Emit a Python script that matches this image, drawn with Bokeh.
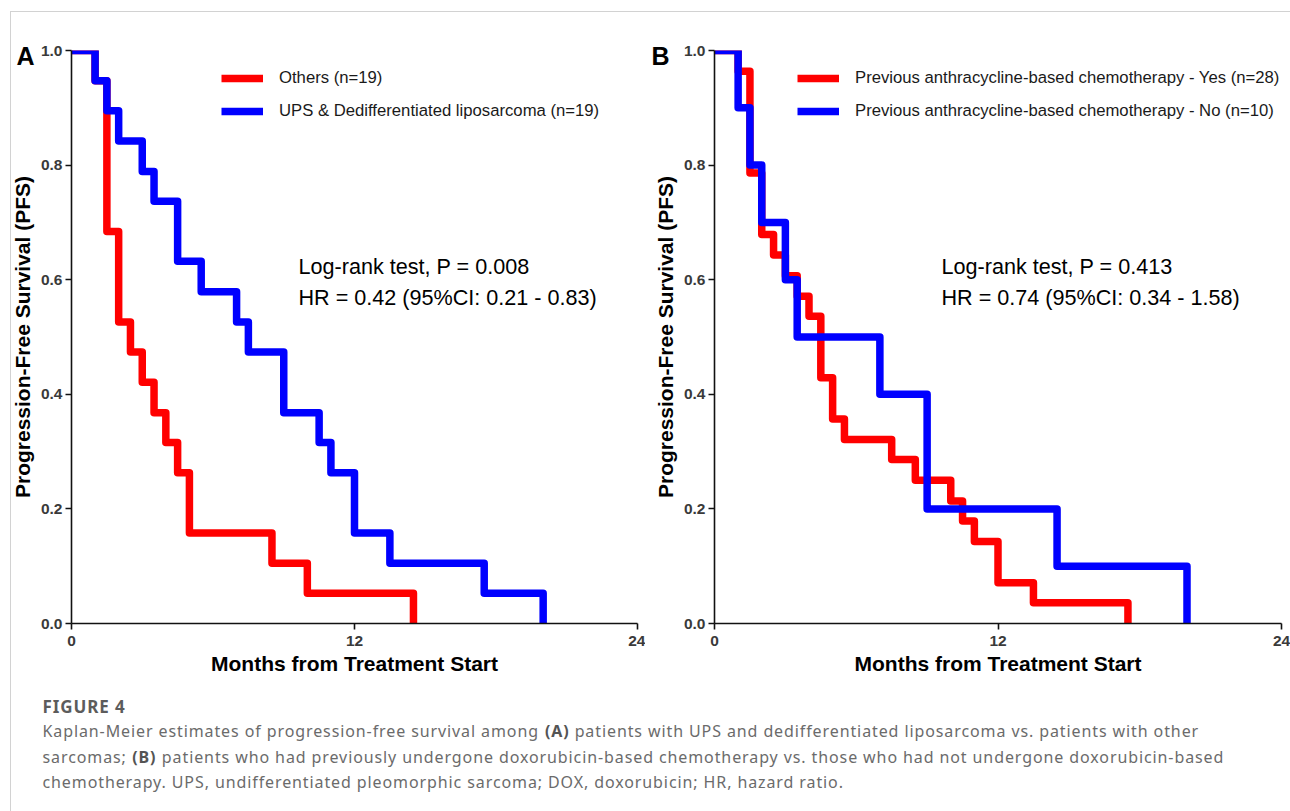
import glob
from bokeh.plotting import figure
from bokeh.models import (Range1d, FixedTicker, PrintfTickFormatter, Label,
                          Legend, LegendItem)
from bokeh.layouts import column, row
from bokeh.embed import file_html
from bokeh.resources import INLINE

# ---------------- data ----------------
x_ticks = [0, 12, 24]
y_ticks = [0.0, 0.2, 0.4, 0.6, 0.8, 1.0]

# Panel A
a_other_t = [0, 1.0, 1.5, 2.0, 2.5, 3.0, 3.5, 4.0, 4.5, 5.0, 8.5, 10.0, 14.5]
a_other_s = [1.0, 0.947, 0.684, 0.526, 0.474, 0.421, 0.368, 0.316, 0.263, 0.158, 0.105, 0.053, 0.0]
a_ups_t = [0, 1.0, 1.5, 2.0, 3.0, 3.5, 4.5, 5.5, 7.0, 7.5, 9.0, 10.5, 11.0, 12.0, 13.5, 17.5, 20.0]
a_ups_s = [1.0, 0.947, 0.895, 0.842, 0.789, 0.737, 0.632, 0.579, 0.526, 0.474, 0.368, 0.316, 0.263, 0.158, 0.105, 0.053, 0.0]
a_labels = ["Others (n=19)", "UPS & Dedifferentiated liposarcoma (n=19)"]
a_stats = ["Log-rank test, P = 0.008", "HR = 0.42 (95%CI: 0.21 - 0.83)"]

# Panel B
b_yes_t = [0, 1.0, 1.5, 2.0, 2.5, 3.0, 3.5, 4.0, 4.5, 5.0, 5.5, 7.5, 8.5, 10.0, 10.5, 11.0, 12.0, 13.5, 17.5]
b_yes_s = [1.0, 0.964, 0.786, 0.679, 0.643, 0.607, 0.571, 0.536, 0.429, 0.357, 0.321, 0.286, 0.25, 0.214, 0.179, 0.143, 0.071, 0.036, 0.0]
b_no_t = [0, 1.0, 1.5, 2.0, 3.0, 3.5, 7.0, 9.0, 14.5, 20.0]
b_no_s = [1.0, 0.9, 0.8, 0.7, 0.6, 0.5, 0.4, 0.2, 0.1, 0.0]
b_labels = ["Previous anthracycline-based chemotherapy - Yes (n=28)",
            "Previous anthracycline-based chemotherapy - No (n=10)"]
b_stats = ["Log-rank test, P = 0.413", "HR = 0.74 (95%CI: 0.34 - 1.58)"]

caption_title = "FIGURE 4"
caption_lines = [
    ["Kaplan-Meier estimates of progression-free survival among", ("(A)",), "patients with UPS and dedifferentiated liposarcoma vs. patients with other"],
    ["sarcomas;", ("(B)",), "patients who had previously undergone doxorubicin-based chemotherapy vs. those who had not undergone doxorubicin-based"],
    ["chemotherapy. UPS, undifferentiated pleomorphic sarcoma; DOX, doxorubicin; HR, hazard ratio."],
]

RED = "#ff0000"
BLUE = "#0000ff"
PF = "Liberation Sans"
CF = "Noto Sans"


def make_panel(width, bleft, bright, letter, letter_off, series, labels, stats, leg_x):
    p = figure(width=width, height=680, x_range=Range1d(0, 24), y_range=Range1d(0, 1),
               output_backend="svg", toolbar_location=None,
               min_border_left=bleft, min_border_right=bright,
               min_border_top=50, min_border_bottom=57)
    p.grid.visible = False
    p.outline_line_color = None
    p.background_fill_alpha = 0
    p.border_fill_alpha = 0

    p.title.text = letter
    p.title.align = "left"
    p.title.offset = letter_off
    p.title.standoff = -38
    p.title.text_font = PF
    p.title.text_font_size = "25px"
    p.title.text_font_style = "bold"
    p.title.text_color = "#000000"

    for ax in (p.xaxis, p.yaxis):
        ax.axis_line_color = "#111111"
        ax.axis_line_width = 1.6
        ax.major_tick_line_color = "#111111"
        ax.major_tick_line_width = 1.6
        ax.major_tick_out = 6
        ax.major_tick_in = 0
        ax.minor_tick_line_color = None
        ax.major_label_text_font = PF
        ax.major_label_text_font_style = "bold"
        ax.major_label_text_font_size = "15.5px"
        ax.major_label_text_color = "#3a3a3a"
        ax.axis_label_text_font = PF
        ax.axis_label_text_font_style = "bold"
        ax.axis_label_text_font_size = "21px"
        ax.axis_label_text_color = "#000000"
    p.xaxis.ticker = FixedTicker(ticks=x_ticks)
    p.yaxis.ticker = FixedTicker(ticks=y_ticks)
    p.yaxis.formatter = PrintfTickFormatter(format="%.1f")
    p.xaxis.axis_label = "Months from Treatment Start"
    p.yaxis.axis_label = "Progression-Free Survival (PFS)"
    p.xaxis.major_label_standoff = 6
    p.yaxis.major_label_standoff = 3
    p.xaxis.axis_label_standoff = 3
    p.yaxis.axis_label_standoff = 4

    rends = []
    for (t, s), col in zip(series, (RED, BLUE)):
        r = p.step(t, s, mode="after", line_color=col, line_width=7.5, line_join="round")
        rends.append(r)

    leg = Legend(items=[LegendItem(label=lab, renderers=[r]) for lab, r in zip(labels, rends)],
                 location=(leg_x, 502), orientation="vertical",
                 glyph_width=42, glyph_height=20, label_height=20, spacing=13,
                 padding=0, margin=0, label_standoff=16,
                 border_line_alpha=0, background_fill_alpha=0,
                 label_text_font=PF, label_text_font_size="16.7px",
                 label_text_color="#1a1a1a")
    p.add_layout(leg)

    for txt, yy in zip(stats, (357, 326.5)):
        p.add_layout(Label(x=227, y=yy, x_units="screen", y_units="screen", text=txt,
                           text_font=PF, text_font_size="21.6px", text_color="#000000",
                           text_baseline="alphabetic", text_align="left"))
    return p


pA = make_panel(645, 71, 8, "A", -55, [(a_other_t, a_other_s), (a_ups_t, a_ups_s)], a_labels, a_stats, 150)
pB = make_panel(645, 69, 9, "B", -63, [(b_yes_t, b_yes_s), (b_no_t, b_no_s)], b_labels, b_stats, 83)

# ---------------- caption ----------------
LS = 0.9  # letter spacing of the caption text (px)


def _find(pats):
    for pat in pats:
        for base in ("/usr/share/fonts", "/usr/local/share/fonts", "/root/.fonts"):
            hits = glob.glob(base + "/**/" + pat, recursive=True)
            if hits:
                return sorted(hits)[0]
    return None


def make_measure():
    try:
        from PIL import ImageFont
        reg = _find(["NotoSans-Regular.ttf", "NotoSans-Regular.otf", "NotoSans*Regular*.ttf", "NotoSans*.ttf"])
        bold = _find(["NotoSans-Bold.ttf", "NotoSans-Bold.otf", "NotoSans*Bold.ttf"]) or reg
        fr = ImageFont.truetype(reg, 160)
        fb = ImageFont.truetype(bold, 160)

        def m(text, size, b=False):
            return (fb if b else fr).getlength(text) * size / 160.0 + LS * len(text)
        m("test", 16)
        return m
    except Exception:
        def m(text, size, b=False):
            return len(text) * (size * (0.50 if b else 0.475) + LS)
        return m


measure = make_measure()

cap = figure(width=1290, height=131, x_range=Range1d(0, 1290), y_range=Range1d(811, 680),
             output_backend="svg", toolbar_location=None,
             min_border_left=0, min_border_right=0, min_border_top=0, min_border_bottom=0)
cap.axis.visible = False
cap.grid.visible = False
cap.outline_line_color = None
cap.background_fill_alpha = 0
cap.border_fill_alpha = 0
cap.styles = {"letter-spacing": f"{LS}px"}

CAP_X = 42
cap.add_layout(Label(x=CAP_X, y=705.7, text=caption_title, text_font=CF, text_font_size="17px",
                     text_font_style="bold", text_color="#5c5c5c", text_baseline="alphabetic"))
CSIZE = 16
baselines = [730.5, 756.0, 781.5]
for segs, yb in zip(caption_lines, baselines):
    x = CAP_X
    for i, seg in enumerate(segs):
        is_bold = isinstance(seg, tuple)
        txt = seg[0] if is_bold else seg
        if i > 0:
            x += measure(" ", CSIZE)
        cap.add_layout(Label(x=x, y=yb, text=txt, text_font=CF, text_font_size=f"{CSIZE}px",
                             text_font_style="bold" if is_bold else "normal",
                             text_color="#545454" if is_bold else "#6b6b6b",
                             text_baseline="alphabetic"))
        x += measure(txt, CSIZE, is_bold)

BC = "#d2d2d2"
layout = column(row(pA, pB), cap,
                styles={"background": (f"linear-gradient({BC}, {BC}) 10px 11px / 1px 100% no-repeat, "
                                       f"linear-gradient({BC}, {BC}) 10px 11px / 100% 1px no-repeat, "
                                       "#ffffff")})

open("out.html", "w").write(file_html(layout, INLINE))
